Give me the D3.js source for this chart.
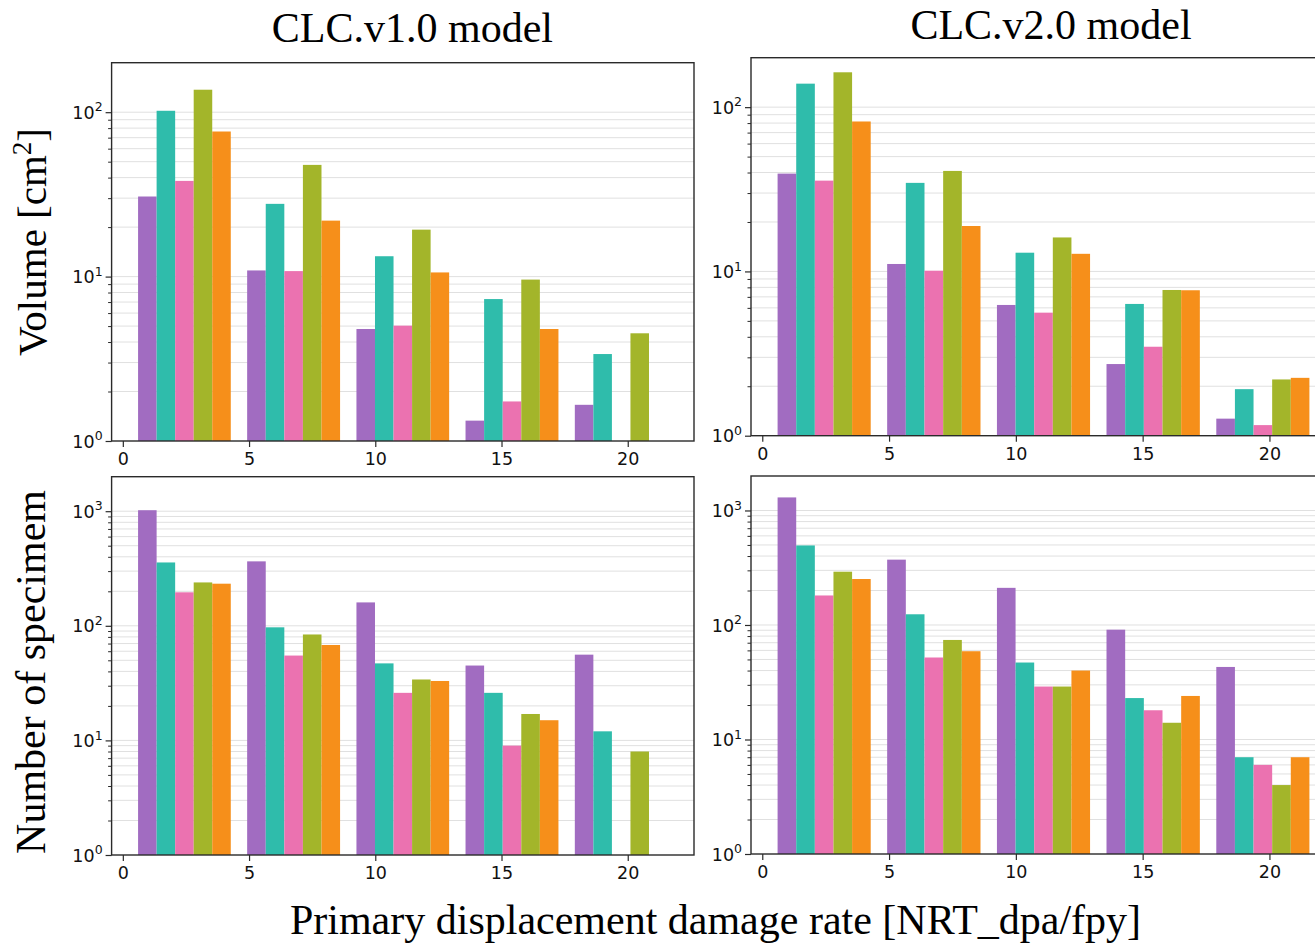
<!DOCTYPE html>
<html>
<head>
<meta charset="utf-8">
<script src="https://cdn.jsdelivr.net/npm/d3@7"></script>
<style>
  body { margin: 0; background: #fff; }
  svg { display: block; }
</style>
</head>
<body>
<svg id="chart" width="1315" height="945"></svg>
<script>
// Histogram bins of the primary displacement damage rate (NRT_dpa/fpy)
const binEdges = [0.28, 4.6, 8.93, 13.25, 17.58, 21.9];

// Five specimen groups, drawn side by side inside each bin
const seriesKeys = ["g1", "g2", "g3", "g4", "g5"];
const seriesColors = ["#a16cc1", "#2fbcab", "#eb72b0", "#a3b52a", "#f68f1a"];

// Volume [cm²] per bin (rows = bins, columns = groups); null = empty bin
const volumeV1 = [
  [30.7, 102, 38.2, 137, 76.3],
  [10.9, 27.7, 10.8, 47.8, 21.9],
  [4.8, 13.3, 5.03, 19.3, 10.6],
  [1.33, 7.3, 1.74, 9.59, 4.8],
  [1.66, 3.38, null, 4.52, null]
];
const volumeV2 = [
  [39.4, 139, 35.7, 163, 81.8],
  [11.1, 34.6, 10.1, 40.9, 18.9],
  [6.25, 13.0, 5.61, 16.1, 12.8],
  [2.73, 6.34, 3.48, 7.71, 7.68],
  [1.27, 1.92, 1.16, 2.2, 2.25]
];

// Number of specimens per bin
const countV1 = [
  [1020, 357, 196, 239, 233],
  [365, 97, 55, 84, 68],
  [160, 47, 26, 34, 33],
  [45, 26, 9, 17, 15],
  [56, 12, null, 8, null]
];
const countV2 = [
  [1300, 495, 181, 292, 252],
  [372, 124, 52, 74, 59],
  [211, 47, 29, 29, 40],
  [91, 23, 18, 14, 24],
  [43, 7, 6, 4, 7]
];

const volumeLimits = [1, 200];
const countLimits = [1, 2000];
const xTicks = [0, 5, 10, 15, 20];
const volumeTicks = [1, 10, 100];
const countTicks = [1, 10, 100, 1000];

const panelTitles = ["CLC.v1.0 model", "CLC.v2.0 model"];
const xTitle = "Primary displacement damage rate [NRT_dpa/fpy]";

const svg = d3.select("#chart");
const serif = "'Times New Roman', 'Liberation Serif', serif";
const sans = "'DejaVu Sans', sans-serif";
const tickFont = 17.5;

// Bar layout in data units: 5 bars share 85% of each bin
const rwidth = 0.85;
const bandFor = (i) => d3.scaleBand()
  .domain(seriesKeys)
  .range([binEdges[i], binEdges[i + 1]])
  .paddingInner(0)
  .paddingOuter((seriesKeys.length * (1 - rwidth)) / (2 * rwidth));
const nb = binEdges.length - 1;
const firstBar = bandFor(0)(seriesKeys[0]);
const lastBand = bandFor(nb - 1);
const lastBar = lastBand(seriesKeys[seriesKeys.length - 1]) + lastBand.bandwidth();
const pad = 0.05 * (lastBar - firstBar);
const xDomain = [firstBar - pad, lastBar + pad];

// Minor log ticks 2..9 × 10^k
function minorTicks(lim) {
  const out = [];
  for (let k = 0; Math.pow(10, k) < lim[1]; k++) {
    for (let m = 2; m <= 9; m++) {
      const v = m * Math.pow(10, k);
      if (v < lim[1]) out.push(v);
    }
  }
  return out;
}

const panels = [
  { box: [111.6, 694, 62.7, 441], data: volumeV1, lim: volumeLimits, ticks: volumeTicks },
  { box: [751, 1336, 57.7, 435.7], data: volumeV2, lim: volumeLimits, ticks: volumeTicks },
  { box: [111.6, 694, 476.7, 855], data: countV1, lim: countLimits, ticks: countTicks },
  { box: [751, 1336, 476, 854], data: countV2, lim: countLimits, ticks: countTicks }
];

panels.forEach((p) => {
  const [x0, x1, y0, y1] = p.box;
  const x = d3.scaleLinear().domain(xDomain).range([x0, x1]);
  const y = d3.scaleLog().domain(p.lim).range([y1, y0]);
  const g = svg.append("g");

  // horizontal grid at major and minor positions
  const gridVals = p.ticks.concat(minorTicks(p.lim)).filter((v) => v > p.lim[0]);
  g.append("g")
    .selectAll("line")
    .data(gridVals)
    .join("line")
    .attr("x1", x0).attr("x2", x1)
    .attr("y1", (d) => y(d)).attr("y2", (d) => y(d))
    .attr("stroke", "#e0e0e0")
    .attr("stroke-width", 1);

  // bars
  p.data.forEach((row, i) => {
    const band = bandFor(i);
    g.append("g")
      .selectAll("rect")
      .data(row.map((v, j) => ({ v, key: seriesKeys[j], c: seriesColors[j] })).filter((d) => d.v != null))
      .join("rect")
      .attr("x", (d) => x(band(d.key)))
      .attr("width", (d) => x(band(d.key) + band.bandwidth()) - x(band(d.key)))
      .attr("y", (d) => y(d.v))
      .attr("height", (d) => y(p.lim[0]) - y(d.v))
      .attr("fill", (d) => d.c);
  });

  // frame
  g.append("rect")
    .attr("x", x0).attr("y", y0)
    .attr("width", x1 - x0).attr("height", y1 - y0)
    .attr("fill", "none")
    .attr("stroke", "#2a2a2a")
    .attr("stroke-width", 1.4);

  // x axis
  const xa = g.append("g")
    .attr("transform", `translate(0,${y1})`)
    .call(d3.axisBottom(x).tickValues(xTicks).tickSize(6).tickPadding(6).tickFormat(d3.format("d")));
  xa.select(".domain").remove();
  xa.selectAll("line").attr("stroke", "#2a2a2a").attr("stroke-width", 1.2);
  xa.selectAll("text").attr("font-family", sans).attr("font-size", tickFont).attr("fill", "#111");

  // y axis: minor ticks
  const ym = g.append("g")
    .attr("transform", `translate(${x0},0)`)
    .call(d3.axisLeft(y).tickValues(minorTicks(p.lim)).tickSize(3.5).tickFormat(""));
  ym.select(".domain").remove();
  ym.selectAll("line").attr("stroke", "#2a2a2a").attr("stroke-width", 1);

  // y axis: major ticks with 10^k labels
  const ya = g.append("g")
    .attr("transform", `translate(${x0},0)`)
    .call(d3.axisLeft(y).tickValues(p.ticks).tickSize(6).tickFormat(""));
  ya.select(".domain").remove();
  ya.selectAll("line").attr("stroke", "#2a2a2a").attr("stroke-width", 1.2);
  ya.selectAll(".tick").each(function (d) {
    const t = d3.select(this).append("text")
      .attr("x", -9).attr("y", 0).attr("dy", "0.35em")
      .attr("text-anchor", "end")
      .attr("font-family", sans)
      .attr("font-size", tickFont)
      .attr("fill", "#111");
    t.append("tspan").text("10");
    t.append("tspan")
      .attr("font-size", 12.5)
      .attr("dy", "-0.6em")
      .text(String(Math.round(Math.log10(d))));
  });
});

// column titles
svg.append("text")
  .attr("x", 412.4).attr("y", 41.5)
  .attr("text-anchor", "middle")
  .attr("font-family", serif).attr("font-size", 42).attr("fill", "#000")
  .text(panelTitles[0]);
svg.append("text")
  .attr("x", 1051).attr("y", 38.5)
  .attr("text-anchor", "middle")
  .attr("font-family", serif).attr("font-size", 42).attr("fill", "#000")
  .text(panelTitles[1]);

// row titles
const volLabel = svg.append("text")
  .attr("transform", "translate(46,242) rotate(-90)")
  .attr("text-anchor", "middle")
  .attr("font-family", serif).attr("font-size", 41).attr("fill", "#000");
volLabel.append("tspan").text("Volume [cm");
volLabel.append("tspan").attr("font-size", 27).attr("dy", "-0.55em").text("2");
volLabel.append("tspan").attr("dy", "0.37em").text("]");

svg.append("text")
  .attr("transform", "translate(45,672) rotate(-90)")
  .attr("text-anchor", "middle")
  .attr("font-family", serif).attr("font-size", 42).attr("fill", "#000")
  .text("Number of specimem");

// shared x title
svg.append("text")
  .attr("x", 715.5).attr("y", 934)
  .attr("text-anchor", "middle")
  .attr("font-family", serif).attr("font-size", 42).attr("fill", "#000")
  .text(xTitle);
</script>
</body>
</html>
